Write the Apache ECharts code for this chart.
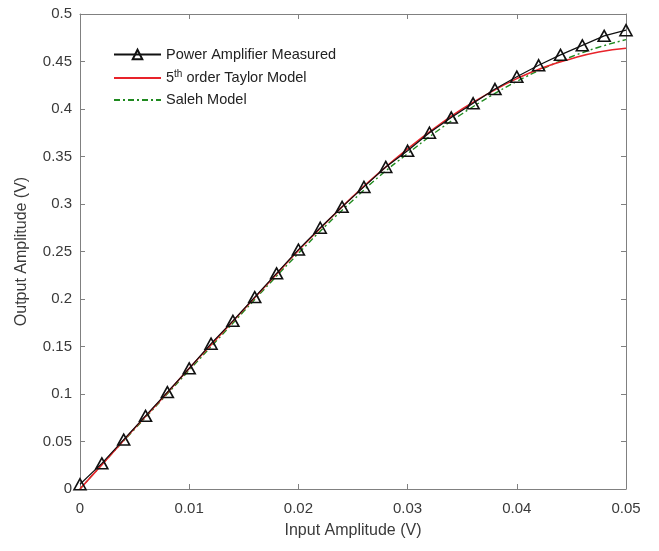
<!DOCTYPE html>
<html><head><meta charset="utf-8">
<script src="https://cdn.jsdelivr.net/npm/echarts@6/dist/echarts.min.js"></script>
<style>html,body{margin:0;padding:0;background:#fff}#c{width:659px;height:551px}</style>
</head><body><div id="c"></div>
<script>
const measuredX = [0,0.002,0.004,0.006,0.008,0.010,0.012,0.014,0.016,0.018,0.020,0.022,0.024,0.026,0.028,0.030,0.032,0.034,0.036,0.038,0.040,0.042,0.044,0.046,0.048,0.050];
const measuredY = [0.005,0.027,0.052,0.077,0.102,0.127,0.153,0.177,0.202,0.227,0.252,0.275,0.297,0.318,0.339,0.356,0.375,0.391,0.406,0.421,0.434,0.446,0.457,0.467,0.477,0.483];
const modelX = [0,0.0025,0.005,0.0075,0.01,0.0125,0.015,0.0175,0.02,0.0225,0.025,0.0275,0.03,0.0325,0.035,0.0375,0.04,0.0425,0.045,0.0475,0.05];
const taylorY = [0,0.032,0.064,0.095,0.127,0.158,0.189,0.220,0.251,0.280,0.308,0.334,0.358,0.380,0.400,0.417,0.432,0.444,0.453,0.460,0.464];
const salehY  = [0,0.032,0.063,0.094,0.125,0.156,0.187,0.218,0.248,0.277,0.304,0.330,0.353,0.375,0.395,0.413,0.429,0.443,0.455,0.465,0.473];
const seriesNames = ['Power Amplifier Measured','5th order Taylor Model','Saleh Model'];

const zip = (xs, ys) => xs.map((x, i) => [x, ys[i]]);
const font = 'Liberation Sans, Arial, sans-serif';
const axisCol = '#808080';
const txtCol = '#3a3a3a';

const chart = echarts.init(document.getElementById('c'));
chart.setOption({
  animation: false,
  grid: {left: 80, right: 33, top: 14, bottom: 62, show: false},
  legend: {
    orient: 'vertical', left: 108, top: 42, itemGap: 7, itemWidth: 47, itemHeight: 12,
    data: [
      {name: seriesNames[0]},
      {name: seriesNames[1], itemStyle: {opacity: 0}},
      {name: seriesNames[2], itemStyle: {opacity: 0}}
    ],
    formatter: n => n === seriesNames[1] ? '5{sup|th} order Taylor Model' : n,
    textStyle: {fontFamily: font, fontSize: 14.5, color: '#222',
      rich: {sup: {fontSize: 10, verticalAlign: 'top', padding: [0, 0, 8, 0], fontFamily: font, color: '#222'}}}
  },
  xAxis: [{
    type: 'value', min: 0, max: 0.05, interval: 0.01,
    name: 'Input Amplitude (V)', nameLocation: 'middle', nameGap: 34,
    nameTextStyle: {fontFamily: font, fontSize: 16, color: txtCol},
    axisLine: {show: true, lineStyle: {color: axisCol}},
    axisTick: {show: true, inside: true, length: 5, lineStyle: {color: axisCol}},
    axisLabel: {fontFamily: font, fontSize: 15, color: txtCol, margin: 12},
    splitLine: {show: false}
  }, {
    type: 'value', position: 'top', min: 0, max: 0.05, interval: 0.01,
    axisLine: {show: true, onZero: false, lineStyle: {color: axisCol}},
    axisTick: {show: true, inside: true, length: 5, lineStyle: {color: axisCol}},
    axisLabel: {show: false}, splitLine: {show: false}
  }],
  yAxis: [{
    type: 'value', min: 0, max: 0.5, interval: 0.05,
    name: 'Output Amplitude (V)', nameLocation: 'middle', nameGap: 50,
    nameTextStyle: {fontFamily: font, fontSize: 16, color: txtCol},
    axisLine: {show: true, lineStyle: {color: axisCol}},
    axisTick: {show: true, inside: true, length: 5, lineStyle: {color: axisCol}},
    axisLabel: {fontFamily: font, fontSize: 15, color: txtCol, margin: 8},
    splitLine: {show: false}
  }, {
    type: 'value', position: 'right', min: 0, max: 0.5, interval: 0.05,
    axisLine: {show: true, onZero: false, lineStyle: {color: axisCol}},
    axisTick: {show: true, inside: true, length: 5, lineStyle: {color: axisCol}},
    axisLabel: {show: false}, splitLine: {show: false}
  }],
  series: [{
    name: seriesNames[0], type: 'line', data: zip(measuredX, measuredY),
    symbol: 'triangle', symbolSize: [12, 11], showAllSymbol: true,
    lineStyle: {color: '#111', width: 1.2},
    itemStyle: {color: 'rgba(255,255,255,0)', borderColor: '#111', borderWidth: 1.6},
    z: 4
  }, {
    name: seriesNames[1], type: 'line', data: zip(modelX, taylorY), smooth: true,
    symbol: 'none', lineStyle: {color: '#e8232a', width: 1.6}, itemStyle: {color: '#e8232a'}, z: 3
  }, {
    name: seriesNames[2], type: 'line', data: zip(modelX, salehY), smooth: true,
    symbol: 'none', lineStyle: {color: '#1f8a1f', width: 1.4, type: [6, 3, 2, 3]}, itemStyle: {color: '#1f8a1f'}, z: 2
  }]
});
</script></body></html>
